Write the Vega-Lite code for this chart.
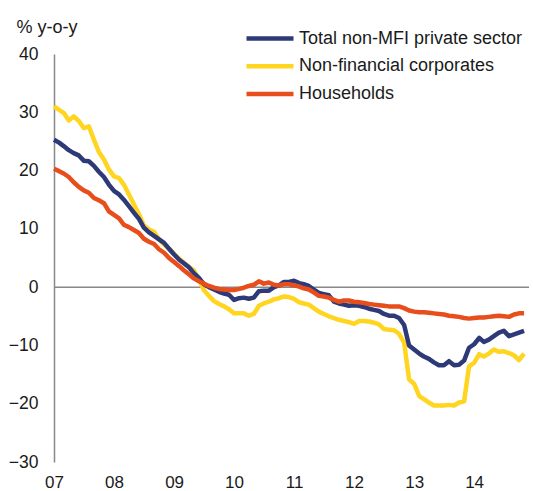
{
  "$schema": "https://vega.github.io/schema/vega-lite/v6.json",
  "width": 475,
  "height": 408,
  "autosize": "none",
  "padding": {"left": 54, "top": 54, "right": 4, "bottom": 29},
  "background": "white",
  "config": {
    "view": {"stroke": null},
    "font": "Liberation Sans",
    "text": {"font": "Liberation Sans"}
  },
  "data": {
    "values": [
      {"date": "2007-01-01", "Total non-MFI private sector": 25.3, "Non-financial corporates": 31.0, "Households": 20.3},
      {"date": "2007-02-01", "Total non-MFI private sector": 24.8, "Non-financial corporates": 30.4, "Households": 19.9},
      {"date": "2007-03-01", "Total non-MFI private sector": 24.2, "Non-financial corporates": 29.9, "Households": 19.5},
      {"date": "2007-04-01", "Total non-MFI private sector": 23.5, "Non-financial corporates": 28.6, "Households": 18.9},
      {"date": "2007-05-01", "Total non-MFI private sector": 23.0, "Non-financial corporates": 29.3, "Households": 18.0},
      {"date": "2007-06-01", "Total non-MFI private sector": 22.6, "Non-financial corporates": 28.5, "Households": 17.2},
      {"date": "2007-07-01", "Total non-MFI private sector": 21.7, "Non-financial corporates": 27.3, "Households": 16.6},
      {"date": "2007-08-01", "Total non-MFI private sector": 21.6, "Non-financial corporates": 27.6, "Households": 16.2},
      {"date": "2007-09-01", "Total non-MFI private sector": 20.8, "Non-financial corporates": 25.3, "Households": 15.3},
      {"date": "2007-10-01", "Total non-MFI private sector": 19.8, "Non-financial corporates": 23.2, "Households": 14.9},
      {"date": "2007-11-01", "Total non-MFI private sector": 18.9, "Non-financial corporates": 21.9, "Households": 14.4},
      {"date": "2007-12-01", "Total non-MFI private sector": 17.6, "Non-financial corporates": 20.2, "Households": 13.0},
      {"date": "2008-01-01", "Total non-MFI private sector": 16.5, "Non-financial corporates": 19.0, "Households": 12.4},
      {"date": "2008-02-01", "Total non-MFI private sector": 15.9, "Non-financial corporates": 18.7, "Households": 11.8},
      {"date": "2008-03-01", "Total non-MFI private sector": 15.0, "Non-financial corporates": 17.6, "Households": 10.7},
      {"date": "2008-04-01", "Total non-MFI private sector": 13.9, "Non-financial corporates": 15.9, "Households": 10.3},
      {"date": "2008-05-01", "Total non-MFI private sector": 12.8, "Non-financial corporates": 14.2, "Households": 9.8},
      {"date": "2008-06-01", "Total non-MFI private sector": 11.7, "Non-financial corporates": 12.5, "Households": 9.3},
      {"date": "2008-07-01", "Total non-MFI private sector": 10.2, "Non-financial corporates": 10.6, "Households": 8.3},
      {"date": "2008-08-01", "Total non-MFI private sector": 9.4, "Non-financial corporates": 9.9, "Households": 7.8},
      {"date": "2008-09-01", "Total non-MFI private sector": 8.8, "Non-financial corporates": 9.5, "Households": 7.4},
      {"date": "2008-10-01", "Total non-MFI private sector": 8.2, "Non-financial corporates": 8.2, "Households": 6.5},
      {"date": "2008-11-01", "Total non-MFI private sector": 7.6, "Non-financial corporates": 7.3, "Households": 5.9},
      {"date": "2008-12-01", "Total non-MFI private sector": 6.6, "Non-financial corporates": 6.6, "Households": 5.0},
      {"date": "2009-01-01", "Total non-MFI private sector": 5.6, "Non-financial corporates": 5.7, "Households": 4.3},
      {"date": "2009-02-01", "Total non-MFI private sector": 4.7, "Non-financial corporates": 4.9, "Households": 3.6},
      {"date": "2009-03-01", "Total non-MFI private sector": 4.1, "Non-financial corporates": 4.2, "Households": 2.9},
      {"date": "2009-04-01", "Total non-MFI private sector": 3.4, "Non-financial corporates": 3.5, "Households": 2.2},
      {"date": "2009-05-01", "Total non-MFI private sector": 2.4, "Non-financial corporates": 2.9, "Households": 1.5},
      {"date": "2009-06-01", "Total non-MFI private sector": 1.6, "Non-financial corporates": 1.3, "Households": 1.0},
      {"date": "2009-07-01", "Total non-MFI private sector": 0.5, "Non-financial corporates": -0.5, "Households": 0.6},
      {"date": "2009-08-01", "Total non-MFI private sector": 0.0, "Non-financial corporates": -1.5, "Households": 0.2},
      {"date": "2009-09-01", "Total non-MFI private sector": -0.4, "Non-financial corporates": -2.4, "Households": -0.1},
      {"date": "2009-10-01", "Total non-MFI private sector": -0.8, "Non-financial corporates": -2.9, "Households": -0.3},
      {"date": "2009-11-01", "Total non-MFI private sector": -1.1, "Non-financial corporates": -3.3, "Households": -0.4},
      {"date": "2009-12-01", "Total non-MFI private sector": -1.3, "Non-financial corporates": -3.8, "Households": -0.5},
      {"date": "2010-01-01", "Total non-MFI private sector": -2.2, "Non-financial corporates": -4.5, "Households": -0.5},
      {"date": "2010-02-01", "Total non-MFI private sector": -1.9, "Non-financial corporates": -4.5, "Households": -0.3},
      {"date": "2010-03-01", "Total non-MFI private sector": -1.8, "Non-financial corporates": -4.5, "Households": -0.1},
      {"date": "2010-04-01", "Total non-MFI private sector": -2.0, "Non-financial corporates": -4.9, "Households": 0.2},
      {"date": "2010-05-01", "Total non-MFI private sector": -1.8, "Non-financial corporates": -4.6, "Households": 0.4},
      {"date": "2010-06-01", "Total non-MFI private sector": -0.7, "Non-financial corporates": -3.2, "Households": 1.0},
      {"date": "2010-07-01", "Total non-MFI private sector": -0.6, "Non-financial corporates": -2.8, "Households": 0.6},
      {"date": "2010-08-01", "Total non-MFI private sector": -0.6, "Non-financial corporates": -2.5, "Households": 0.8},
      {"date": "2010-09-01", "Total non-MFI private sector": 0.0, "Non-financial corporates": -2.1, "Households": 0.4},
      {"date": "2010-10-01", "Total non-MFI private sector": 0.3, "Non-financial corporates": -1.9, "Households": 0.3},
      {"date": "2010-11-01", "Total non-MFI private sector": 0.9, "Non-financial corporates": -1.6, "Households": 0.5},
      {"date": "2010-12-01", "Total non-MFI private sector": 0.9, "Non-financial corporates": -1.7, "Households": 0.5},
      {"date": "2011-01-01", "Total non-MFI private sector": 1.1, "Non-financial corporates": -2.0, "Households": 0.3},
      {"date": "2011-02-01", "Total non-MFI private sector": 0.7, "Non-financial corporates": -2.6, "Households": 0.1},
      {"date": "2011-03-01", "Total non-MFI private sector": 0.5, "Non-financial corporates": -2.8, "Households": -0.2},
      {"date": "2011-04-01", "Total non-MFI private sector": 0.2, "Non-financial corporates": -3.0, "Households": -0.4},
      {"date": "2011-05-01", "Total non-MFI private sector": -0.4, "Non-financial corporates": -3.6, "Households": -0.9},
      {"date": "2011-06-01", "Total non-MFI private sector": -1.0, "Non-financial corporates": -4.2, "Households": -1.5},
      {"date": "2011-07-01", "Total non-MFI private sector": -1.2, "Non-financial corporates": -4.6, "Households": -1.6},
      {"date": "2011-08-01", "Total non-MFI private sector": -1.4, "Non-financial corporates": -5.0, "Households": -1.8},
      {"date": "2011-09-01", "Total non-MFI private sector": -2.5, "Non-financial corporates": -5.3, "Households": -2.2},
      {"date": "2011-10-01", "Total non-MFI private sector": -2.8, "Non-financial corporates": -5.6, "Households": -2.5},
      {"date": "2011-11-01", "Total non-MFI private sector": -3.0, "Non-financial corporates": -5.8, "Households": -2.3},
      {"date": "2011-12-01", "Total non-MFI private sector": -3.2, "Non-financial corporates": -6.0, "Households": -2.3},
      {"date": "2012-01-01", "Total non-MFI private sector": -3.1, "Non-financial corporates": -6.3, "Households": -2.5},
      {"date": "2012-02-01", "Total non-MFI private sector": -3.2, "Non-financial corporates": -5.8, "Households": -2.6},
      {"date": "2012-03-01", "Total non-MFI private sector": -3.4, "Non-financial corporates": -5.8, "Households": -2.7},
      {"date": "2012-04-01", "Total non-MFI private sector": -3.7, "Non-financial corporates": -5.9, "Households": -2.9},
      {"date": "2012-05-01", "Total non-MFI private sector": -3.9, "Non-financial corporates": -6.1, "Households": -3.0},
      {"date": "2012-06-01", "Total non-MFI private sector": -4.1, "Non-financial corporates": -6.4, "Households": -3.1},
      {"date": "2012-07-01", "Total non-MFI private sector": -4.6, "Non-financial corporates": -7.2, "Households": -3.2},
      {"date": "2012-08-01", "Total non-MFI private sector": -4.9, "Non-financial corporates": -7.3, "Households": -3.3},
      {"date": "2012-09-01", "Total non-MFI private sector": -4.9, "Non-financial corporates": -7.4, "Households": -3.3},
      {"date": "2012-10-01", "Total non-MFI private sector": -5.3, "Non-financial corporates": -8.0, "Households": -3.3},
      {"date": "2012-11-01", "Total non-MFI private sector": -6.5, "Non-financial corporates": -9.5, "Households": -3.6},
      {"date": "2012-12-01", "Total non-MFI private sector": -10.0, "Non-financial corporates": -15.8, "Households": -4.0},
      {"date": "2013-01-01", "Total non-MFI private sector": -10.7, "Non-financial corporates": -16.6, "Households": -4.2},
      {"date": "2013-02-01", "Total non-MFI private sector": -11.4, "Non-financial corporates": -18.7, "Households": -4.3},
      {"date": "2013-03-01", "Total non-MFI private sector": -11.9, "Non-financial corporates": -19.2, "Households": -4.3},
      {"date": "2013-04-01", "Total non-MFI private sector": -12.3, "Non-financial corporates": -19.8, "Households": -4.4},
      {"date": "2013-05-01", "Total non-MFI private sector": -12.9, "Non-financial corporates": -20.3, "Households": -4.5},
      {"date": "2013-06-01", "Total non-MFI private sector": -13.4, "Non-financial corporates": -20.3, "Households": -4.6},
      {"date": "2013-07-01", "Total non-MFI private sector": -13.4, "Non-financial corporates": -20.3, "Households": -4.7},
      {"date": "2013-08-01", "Total non-MFI private sector": -12.7, "Non-financial corporates": -20.2, "Households": -4.9},
      {"date": "2013-09-01", "Total non-MFI private sector": -13.4, "Non-financial corporates": -20.3, "Households": -5.0},
      {"date": "2013-10-01", "Total non-MFI private sector": -13.3, "Non-financial corporates": -19.8, "Households": -5.1},
      {"date": "2013-11-01", "Total non-MFI private sector": -12.6, "Non-financial corporates": -19.6, "Households": -5.3},
      {"date": "2013-12-01", "Total non-MFI private sector": -10.4, "Non-financial corporates": -13.6, "Households": -5.4},
      {"date": "2014-01-01", "Total non-MFI private sector": -9.8, "Non-financial corporates": -13.0, "Households": -5.3},
      {"date": "2014-02-01", "Total non-MFI private sector": -8.7, "Non-financial corporates": -11.5, "Households": -5.2},
      {"date": "2014-03-01", "Total non-MFI private sector": -9.4, "Non-financial corporates": -11.9, "Households": -5.2},
      {"date": "2014-04-01", "Total non-MFI private sector": -9.0, "Non-financial corporates": -11.4, "Households": -5.1},
      {"date": "2014-05-01", "Total non-MFI private sector": -8.4, "Non-financial corporates": -10.7, "Households": -5.0},
      {"date": "2014-06-01", "Total non-MFI private sector": -7.8, "Non-financial corporates": -11.1, "Households": -4.9},
      {"date": "2014-07-01", "Total non-MFI private sector": -7.5, "Non-financial corporates": -11.0, "Households": -5.0},
      {"date": "2014-08-01", "Total non-MFI private sector": -8.4, "Non-financial corporates": -11.3, "Households": -5.1},
      {"date": "2014-09-01", "Total non-MFI private sector": -8.1, "Non-financial corporates": -11.7, "Households": -4.7},
      {"date": "2014-10-01", "Total non-MFI private sector": -7.8, "Non-financial corporates": -12.5, "Households": -4.5},
      {"date": "2014-11-01", "Total non-MFI private sector": -7.5, "Non-financial corporates": -11.4, "Households": -4.5}
    ]
  },
  "layer": [
    {
      "data": {"values": [{"zero": 0}]},
      "mark": {"type": "rule", "color": "#888888", "strokeWidth": 1.5},
      "encoding": {
        "y": {"field": "zero", "type": "quantitative", "scale": {"domain": [-30, 40], "nice": false}}
      }
    },
    {
      "transform": [
        {"fold": ["Non-financial corporates", "Total non-MFI private sector", "Households"], "as": ["series", "value"]}
      ],
      "mark": {"type": "line", "strokeWidth": 4.5, "strokeJoin": "round"},
      "encoding": {
        "x": {
          "field": "date",
          "type": "temporal",
          "scale": {"type": "utc", "domain": ["2007-01-01", "2014-12-01"], "nice": false},
          "axis": {
            "title": null,
            "format": "%y",
            "tickCount": {"interval": "year", "step": 1},
            "domain": false,
            "ticks": false,
            "tickSize": 0,
            "grid": false,
            "labelFontSize": 17,
            "labelColor": "#1a1a1a",
            "labelPadding": 12,
            "labelAlign": "center",
            "labelFlush": false,
            "labelOverlap": false
          }
        },
        "y": {
          "field": "value",
          "type": "quantitative",
          "scale": {"domain": [-30, 40], "nice": false},
          "axis": {
            "title": "% y-o-y",
            "titleAngle": 0,
            "titleX": -38,
            "titleY": -22,
            "titleAlign": "left",
            "titleBaseline": "alphabetic",
            "titleFontSize": 18,
            "titleFontWeight": "normal",
            "titleColor": "#1a1a1a",
            "values": [-30, -20, -10, 0, 10, 20, 30, 40],
            "domainColor": "#888888",
            "domainWidth": 1.5,
            "ticks": false,
            "tickSize": 0,
            "grid": false,
            "labelFontSize": 17.5,
            "labelColor": "#1a1a1a",
            "labelPadding": 16,
            "labelFlush": false,
            "labelOverlap": false
          }
        },
        "color": {
          "field": "series",
          "type": "nominal",
          "scale": {
            "domain": ["Total non-MFI private sector", "Non-financial corporates", "Households"],
            "range": ["#2E3A78", "#FFD520", "#E84E1B"]
          },
          "legend": {
            "title": null,
            "orient": "none",
            "legendX": 190,
            "legendY": -25.5,
            "symbolType": "stroke",
            "symbolSize": 2209,
            "symbolStrokeWidth": 4.5,
            "clipHeight": 20,
            "labelFontSize": 18,
            "labelLimit": 0,
            "labelColor": "#1a1a1a",
            "labelOffset": 3,
            "rowPadding": 7.7,
            "padding": 0
          }
        }
      }
    }
  ]
}
